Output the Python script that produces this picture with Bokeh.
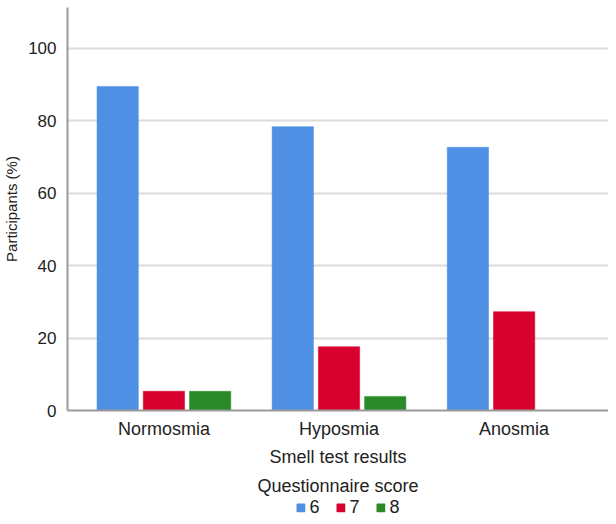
from bokeh.plotting import figure
from bokeh.models import Range1d, FixedTicker, Legend, LegendItem, LinearAxis, ColumnDataSource, Spacer
from bokeh.layouts import column, row
from bokeh.embed import file_html
from bokeh.resources import INLINE

categories = ["Normosmia", "Hyposmia", "Anosmia"]
scores = ["6", "7", "8"]
score6 = [89.5, 78.4, 72.7]
score7 = [5.3, 17.6, 27.3]
score8 = [5.3, 3.9, 0.0]
colors = ["#4F8FE4", "#D8002E", "#2A8A2A"]
y_ticks = [0, 20, 40, 60, 80, 100]

FONT = "Liberation Sans"

p = figure(width=608, height=498, output_backend="svg", toolbar_location=None,
           x_range=Range1d(-0.0506, 3.039), y_range=Range1d(0, 111.3),
           min_border_left=58, min_border_top=7, min_border_right=0, min_border_bottom=0)
p.outline_line_color = None
p.background_fill_color = "white"
p.border_fill_color = "white"

centers = [i + 0.5 for i in range(len(categories))]
offsets = [-0.264, 0.0, 0.264]
series = [score6, score7, score8]
for vals, col, off in zip(series, colors, offsets):
    src = ColumnDataSource(dict(x=[c + off for c in centers], top=vals))
    p.vbar(x="x", top="top", bottom=0, width=0.236, source=src,
           fill_color=col, line_color=col, line_width=0.5)

# axes
p.xaxis.ticker = FixedTicker(ticks=centers)
p.xaxis.major_label_overrides = {c: n for c, n in zip(centers, categories)}
p.yaxis.ticker = FixedTicker(ticks=y_ticks)
for ax in (p.xaxis[0], p.yaxis[0]):
    ax.axis_line_color = "#9A9A9A"
    ax.axis_line_width = 2
    ax.major_tick_line_color = None
    ax.minor_tick_line_color = None
    ax.major_label_text_font = FONT
    ax.major_label_text_font_size = "17px"
    ax.major_label_text_color = "#222222"
    ax.axis_label_text_font = FONT
    ax.axis_label_text_font_size = "15px"
    ax.axis_label_text_font_style = "normal"
    ax.axis_label_text_color = "#222222"
p.xaxis.major_label_text_font_size = "18px"
p.xaxis.axis_label_text_font_size = "18px"
p.xaxis.major_label_standoff = 2
p.yaxis.major_label_standoff = 5
p.xaxis.axis_label = "Smell test results"
p.xaxis.axis_label_standoff = 5
p.yaxis.axis_label = "Participants (%)"
p.yaxis.axis_label_standoff = 5

p.xgrid.grid_line_color = None
p.ygrid.grid_line_color = "#DCDCDC"
p.ygrid.grid_line_width = 2
p.ygrid.ticker = FixedTicker(ticks=y_ticks)

# legend title row as a label-only axis
qaxis = LinearAxis(ticker=FixedTicker(ticks=[]), axis_label="Questionnaire score",
                   axis_line_color=None, major_tick_line_color=None,
                   minor_tick_line_color=None, major_label_standoff=0,
                   axis_label_standoff=6, axis_label_text_font=FONT,
                   axis_label_text_font_size="18px", axis_label_text_font_style="normal",
                   axis_label_text_color="#222222")
p.add_layout(qaxis, "below")

# legend strip
lg = figure(width=512, height=18, output_backend="svg", toolbar_location=None,
            x_axis_type=None, y_axis_type=None, min_border=0,
            x_range=Range1d(0, 1), y_range=Range1d(0, 1))
lg.outline_line_color = None
lg.grid.visible = False
items = []
for s, col in zip(scores, colors):
    r = lg.vbar(x=[5], top=[1], width=0.1, fill_color=col, line_color=col)
    items.append(LegendItem(label=s, renderers=[r]))
legend = Legend(items=items, orientation="horizontal", location="center",
                border_line_color=None, background_fill_alpha=0,
                glyph_width=10, glyph_height=10, label_text_font=FONT,
                label_text_font_size="18px", label_text_color="#222222",
                label_standoff=4, label_width=19, label_height=16, spacing=7,
                padding=0, margin=0)
lg.add_layout(legend)

layout = column(p, row(Spacer(width=96, height=18), lg, spacing=0), spacing=0)
open("out.html", "w").write(file_html(layout, INLINE))
